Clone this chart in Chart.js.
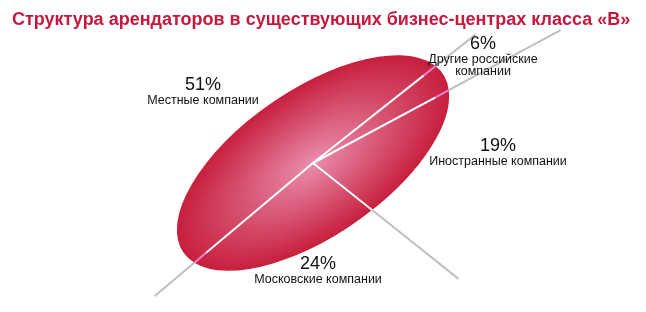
<!DOCTYPE html>
<html lang="ru">
<head>
<meta charset="utf-8">
<script src="https://cdn.jsdelivr.net/npm/chart.js@4"></script>
<style>
    html, body { margin: 0; padding: 0; background: #fff; }
    #box { width: 646px; height: 312px; position: relative; }
</style>
</head>
<body>
<div id="box"><canvas id="grafico"></canvas></div>
<script>
// dados do gráfico
const titulo = 'Структура арендаторов в существующих бизнес-центрах класса «В»';
const categorias = ['Местные компании', 'Другие российские компании', 'Иностранные компании', 'Московские компании'];
const valores = [51, 6, 19, 24];

// geometria da elipse (pizza inclinada)
const HUB_X = 313, HUB_Y = 163;
const EIXO_A = 157.5, EIXO_B = 73;
const INCLINACAO = -34.6 * Math.PI / 180;

// rótulos (posição do centro do texto)
const posRotulos = [
    { x: 203, y: 85, quebra: false },
    { x: 483, y: 44, quebra: true },
    { x: 498, y: 146, quebra: false },
    { x: 318, y: 264, quebra: false }
];
// linhas-guia: comprimento a partir do centro e se tem trecho rosa na borda
const compLinhas = [207, 207, 281, 186];
const trechoRosa = [true, true, true, false];

const FONTE = "'Liberation Sans', Arial, sans-serif";

// ponto na tela a partir do ângulo do círculo (raio 1 = borda da elipse)
function pontoTela(ang, raio) {
    const u = Math.cos(ang) * EIXO_A * raio;
    const v = Math.sin(ang) * EIXO_B * raio;
    return {
        x: HUB_X + u * Math.cos(INCLINACAO) - v * Math.sin(INCLINACAO),
        y: HUB_Y + u * Math.sin(INCLINACAO) + v * Math.cos(INCLINACAO)
    };
}

function linha(ctx, p1, p2, cor, largura) {
    ctx.beginPath();
    ctx.moveTo(p1.x, p1.y);
    ctx.lineTo(p2.x, p2.y);
    ctx.strokeStyle = cor;
    ctx.lineWidth = largura;
    ctx.stroke();
}

const pluginElipse = {
    id: 'elipse',
    beforeDatasetsDraw(chart) {
        const arco = chart.getDatasetMeta(0).data[0];
        const ctx = chart.ctx;
        ctx.save();
        ctx.translate(HUB_X, HUB_Y);
        ctx.rotate(INCLINACAO);
        ctx.scale(EIXO_A / arco.outerRadius, EIXO_B / arco.outerRadius);
        ctx.translate(-arco.x, -arco.y);
    },
    afterDatasetsDraw(chart) {
        const ctx = chart.ctx;
        ctx.restore();
        ctx.save();
        ctx.lineCap = 'butt';
        const hub = { x: HUB_X, y: HUB_Y };

        chart.getDatasetMeta(0).data.forEach((arco, i) => {
            const borda = pontoTela(arco.startAngle, 1);
            const dx = borda.x - HUB_X, dy = borda.y - HUB_Y;
            const d = Math.hypot(dx, dy);
            const ux = dx / d, uy = dy / d;
            const fim = { x: HUB_X + ux * compLinhas[i], y: HUB_Y + uy * compLinhas[i] };

            // linha cinza para fora
            linha(ctx, borda, fim, '#bfbfbf', 2);
            // divisória branca por dentro
            if (trechoRosa[i]) {
                const meio = { x: borda.x - ux * 15, y: borda.y - uy * 15 };
                linha(ctx, hub, meio, '#ffffff', 2);
                linha(ctx, meio, borda, '#f07fcf', 2);
            } else {
                linha(ctx, hub, borda, '#ffffff', 2);
            }
        });

        // rótulos
        ctx.fillStyle = '#111';
        ctx.textAlign = 'center';
        ctx.textBaseline = 'middle';
        valores.forEach((v, i) => {
            const p = posRotulos[i];
            ctx.font = '18px ' + FONTE;
            ctx.fillText(v + '%', p.x, p.y);
            ctx.font = '12.5px ' + FONTE;
            let linhas = [categorias[i]];
            if (p.quebra) {
                const k = categorias[i].lastIndexOf(' ');
                linhas = [categorias[i].slice(0, k), categorias[i].slice(k + 1)];
            }
            linhas.forEach((t, j) => ctx.fillText(t, p.x, p.y + 15.5 + j * 12));
        });
        ctx.restore();
    }
};

function gradiente(c) {
    const area = c.chart.chartArea;
    if (!area) return '#c8213f';
    const cx = (area.left + area.right) / 2;
    const cy = (area.top + area.bottom) / 2;
    const r = Math.min(area.width, area.height) / 2;
    const g = c.chart.ctx.createRadialGradient(cx, cy, 0, cx, cy, r);
    g.addColorStop(0, '#ea8dac');
    g.addColorStop(0.55, '#d6506f');
    g.addColorStop(1, '#c71f3d');
    return g;
}

new Chart(document.getElementById('grafico'), {
    type: 'pie',
    data: {
        labels: categorias,
        datasets: [{
            data: valores,
            backgroundColor: gradiente,
            borderWidth: 0,
            hoverOffset: 0
        }]
    },
    options: {
        responsive: true,
        maintainAspectRatio: false,
        animation: false,
        rotation: 258.4,
        layout: { padding: { left: 12 } },
        plugins: {
            legend: { display: false },
            tooltip: { enabled: false },
            title: {
                display: true,
                text: titulo,
                align: 'start',
                color: '#c4183c',
                font: { family: FONTE, size: 18, weight: 'bold' },
                padding: { top: 9, bottom: 4 }
            }
        }
    },
    plugins: [pluginElipse]
});
</script>
</body>
</html>
